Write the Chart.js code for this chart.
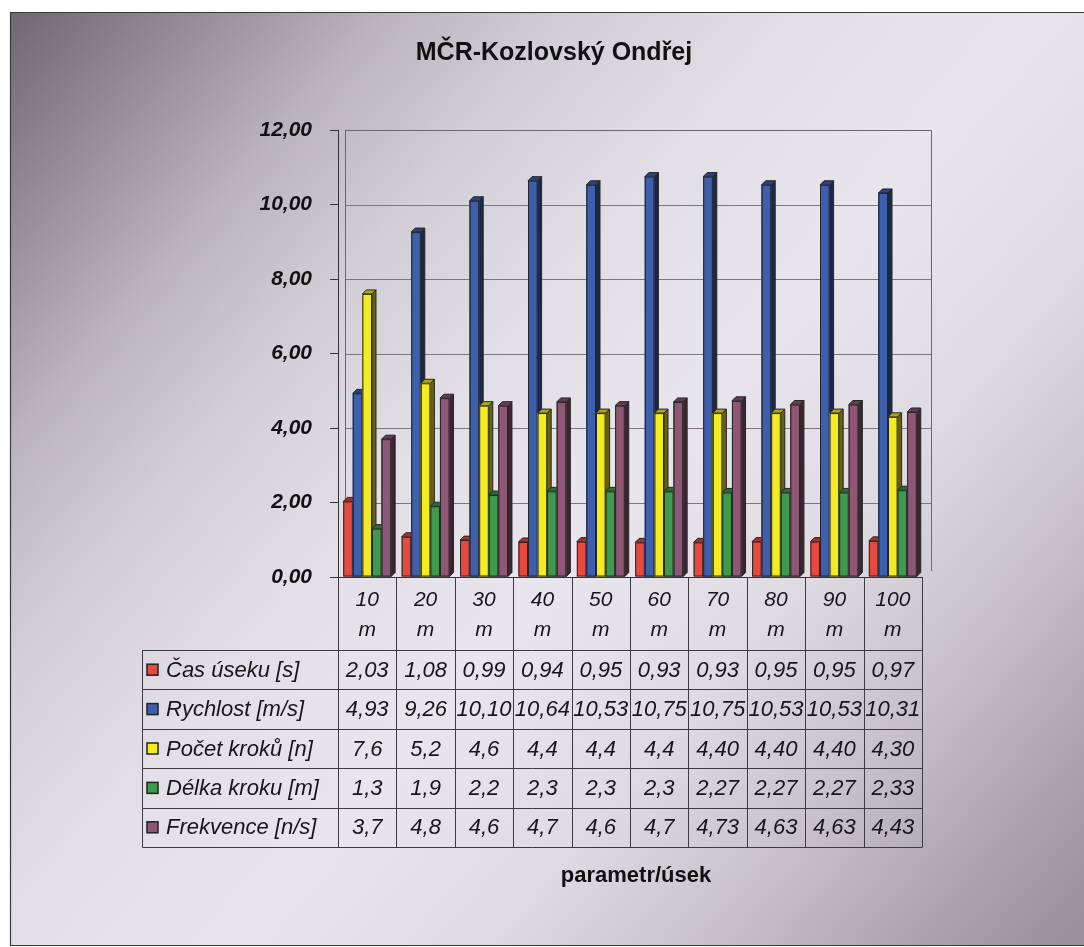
<!DOCTYPE html>
<html>
<head>
<meta charset="utf-8">
<title>MČR-Kozlovský Ondřej</title>
<script src="https://cdn.jsdelivr.net/npm/chart.js@4.4.1/dist/chart.umd.min.js"></script>
<style>
  html, body { margin: 0; padding: 0; background: #ffffff; }
  canvas { display: block; }
</style>
</head>
<body>
<canvas id="chart" width="1084" height="947"></canvas>
<script>
// Segments of the 100 m run (category axis)
const segments = ['10', '20', '30', '40', '50', '60', '70', '80', '90', '100'];
const segmentUnit = 'm';

// Series names as shown in the data table
const seriesNames = ['Čas úseku [s]', 'Rychlost [m/s]', 'Počet kroků [n]', 'Délka kroku [m]', 'Frekvence [n/s]'];

// Values as printed in the table (Czech decimal comma); bars are drawn from these same values
const casUseku   = ['2,03', '1,08', '0,99', '0,94', '0,95', '0,93', '0,93', '0,95', '0,95', '0,97'];
const rychlost   = ['4,93', '9,26', '10,10', '10,64', '10,53', '10,75', '10,75', '10,53', '10,53', '10,31'];
const pocetKroku = ['7,6', '5,2', '4,6', '4,4', '4,4', '4,4', '4,40', '4,40', '4,40', '4,30'];
const delkaKroku = ['1,3', '1,9', '2,2', '2,3', '2,3', '2,3', '2,27', '2,27', '2,27', '2,33'];
const frekvence  = ['3,7', '4,8', '4,6', '4,7', '4,6', '4,7', '4,73', '4,63', '4,63', '4,43'];

// Value axis
const yMin = 0;
const yMax = 12;
const yStep = 2;

const seriesColors = ['#e5493f', '#3d5fae', '#f4ec22', '#3f9a4e', '#8e5874'];
const seriesText = [casUseku, rychlost, pocetKroku, delkaKroku, frekvence];

const FONT = "'Liberation Sans', Arial, sans-serif";
const toNumber = s => parseFloat(s.replace(',', '.'));

function shade(hex, f) {
  const n = parseInt(hex.slice(1), 16);
  const r = Math.round(((n >> 16) & 255) * f);
  const g = Math.round(((n >> 8) & 255) * f);
  const b = Math.round((n & 255) * f);
  return `rgb(${Math.min(r,255)},${Math.min(g,255)},${Math.min(b,255)})`;
}

// Chart background: diagonal grey-to-light-to-grey fill with a thin frame
const backgroundPlugin = {
  id: 'sheetBackground',
  beforeDraw(chart) {
    const { ctx, width, height } = chart;
    ctx.save();
    ctx.fillStyle = '#ffffff';
    ctx.fillRect(0, 0, width, height);
    const x0 = 10, y0 = 12, x1 = width + 2, y1 = 945;
    const g = ctx.createLinearGradient(x0, y0, 1084, 945);
    g.addColorStop(0.00, '#6e696f');
    g.addColorStop(0.07, '#88838a');
    g.addColorStop(0.20, '#bab5bc');
    g.addColorStop(0.30, '#d2ced5');
    g.addColorStop(0.42, '#e3dfe6');
    g.addColorStop(0.55, '#e9e5ec');
    g.addColorStop(0.68, '#dfdbe2');
    g.addColorStop(0.80, '#c7c2c9');
    g.addColorStop(0.90, '#aca7ae');
    g.addColorStop(1.00, '#958f97');
    ctx.fillStyle = g;
    ctx.fillRect(x0, y0, x1 - x0, y1 - y0);
    ctx.strokeStyle = '#3a3a3a';
    ctx.lineWidth = 1.2;
    ctx.beginPath();
    ctx.moveTo(x1, y0 + 0.5);
    ctx.lineTo(x0 + 0.5, y0 + 0.5);
    ctx.lineTo(x0 + 0.5, y1 + 0.5);
    ctx.lineTo(x1, y1 + 0.5);
    ctx.stroke();
    ctx.restore();
  }
};

// Back wall of the plot: frame and horizontal gridlines, offset for the 3D depth
const WALL_DX = 7;
const WALL_RIGHT_EXTRA = 9;
const wallPlugin = {
  id: 'plotWall',
  beforeDatasetsDraw(chart) {
    const { ctx, chartArea, scales } = chart;
    const y = scales.y;
    const left = chartArea.left + WALL_DX;
    const right = chartArea.right + WALL_RIGHT_EXTRA;
    ctx.save();
    ctx.strokeStyle = '#7a777d';
    ctx.lineWidth = 1;
    y.ticks.forEach(t => {
      const py = Math.round(y.getPixelForValue(t.value)) + 0.5;
      if (t.value === yMin) return;
      ctx.beginPath();
      ctx.moveTo(left, py);
      ctx.lineTo(right, py);
      ctx.stroke();
    });
    const top = Math.round(y.getPixelForValue(yMax)) + 0.5;
    const bottom = Math.round(y.getPixelForValue(yMin)) - 6;
    ctx.strokeStyle = '#6a676d';
    ctx.beginPath();
    ctx.moveTo(left + 0.5, bottom);
    ctx.lineTo(left + 0.5, top);
    ctx.lineTo(right + 0.5, top);
    ctx.lineTo(right + 0.5, bottom);
    ctx.stroke();
    ctx.restore();
  }
};

// Shaded side and top faces give each bar a shallow 3D look
const DEPTH = 4;
const bars3dPlugin = {
  id: 'bars3d',
  afterDatasetsDraw(chart) {
    const { ctx } = chart;
    const metas = chart.data.datasets.map((d, i) => chart.getDatasetMeta(i));
    const n = chart.data.labels.length;
    const face = (el, color) => {
      const p = el.getProps(['x', 'y', 'base', 'width'], true);
      const l = p.x - p.width / 2;
      ctx.fillStyle = color;
      ctx.fillRect(l, p.y, p.width, p.base - p.y);
      ctx.strokeStyle = '#262626';
      ctx.lineWidth = 1;
      ctx.strokeRect(l + 0.5, p.y + 0.5, p.width - 1, p.base - p.y - 1);
    };
    ctx.save();
    for (let j = 0; j < n; j++) {
      for (let i = 0; i < metas.length; i++) {
        const el = metas[i].data[j];
        const p = el.getProps(['x', 'y', 'base', 'width'], true);
        const l = p.x - p.width / 2, r = p.x + p.width / 2;
        const c = seriesColors[i];
        ctx.lineWidth = 1;
        ctx.strokeStyle = '#262626';
        ctx.fillStyle = shade(c, 0.42);
        ctx.beginPath();
        ctx.moveTo(r, p.y);
        ctx.lineTo(r + DEPTH, p.y - DEPTH);
        ctx.lineTo(r + DEPTH, p.base - DEPTH);
        ctx.lineTo(r, p.base);
        ctx.closePath();
        ctx.fill();
        ctx.stroke();
        ctx.fillStyle = shade(c, 0.7);
        ctx.beginPath();
        ctx.moveTo(l, p.y);
        ctx.lineTo(l + DEPTH, p.y - DEPTH);
        ctx.lineTo(r + DEPTH, p.y - DEPTH);
        ctx.lineTo(r, p.y);
        ctx.closePath();
        ctx.fill();
        ctx.stroke();
        face(el, c);
        if (i + 1 < metas.length) face(metas[i + 1].data[j], seriesColors[i + 1]);
      }
    }
    ctx.restore();
  }
};

// Data table under the category axis, chart title and axis title
const TABLE_LEFT = 142;
const TABLE_TOP = 650;
const ROW_H = 39.4;
const tablePlugin = {
  id: 'dataTable',
  afterDraw(chart) {
    const { ctx, chartArea, scales } = chart;
    const x = scales.x;
    const axisY = chartArea.bottom;
    const rows = seriesText.length;
    const tableBottom = TABLE_TOP + rows * ROW_H;
    ctx.save();
    ctx.strokeStyle = '#3c3c3c';
    ctx.lineWidth = 1;

    // column dividers at category boundaries
    for (let j = 0; j <= segments.length; j++) {
      const px = Math.round(x.getPixelForValue(j - 0.5)) + 0.5;
      ctx.beginPath();
      ctx.moveTo(px, axisY);
      ctx.lineTo(px, tableBottom);
      ctx.stroke();
    }
    // row lines
    const right = Math.round(x.getPixelForValue(segments.length - 0.5)) + 0.5;
    for (let r = 0; r <= rows; r++) {
      const py = Math.round(TABLE_TOP + r * ROW_H) + 0.5;
      ctx.beginPath();
      ctx.moveTo(TABLE_LEFT + 0.5, py);
      ctx.lineTo(right, py);
      ctx.stroke();
    }
    ctx.beginPath();
    ctx.moveTo(TABLE_LEFT + 0.5, TABLE_TOP);
    ctx.lineTo(TABLE_LEFT + 0.5, tableBottom + 0.5);
    ctx.stroke();

    // legend keys and row captions
    ctx.textBaseline = 'middle';
    for (let r = 0; r < rows; r++) {
      const cy = TABLE_TOP + r * ROW_H + ROW_H / 2;
      ctx.fillStyle = seriesColors[r];
      ctx.fillRect(147, cy - 5.5, 11, 11);
      ctx.strokeStyle = '#222';
      ctx.lineWidth = 1.5;
      ctx.strokeRect(147, cy - 5.5, 11, 11);
      ctx.fillStyle = '#161616';
      ctx.font = `italic 22px ${FONT}`;
      ctx.textAlign = 'left';
      ctx.fillText(seriesNames[r], 166, cy + 1);
      ctx.textAlign = 'center';
      seriesText[r].forEach((s, j) => {
        ctx.fillText(s, x.getPixelForValue(j), cy + 1);
      });
    }

    // chart title
    ctx.fillStyle = '#111111';
    ctx.textAlign = 'center';
    ctx.font = `bold 25px ${FONT}`;
    ctx.fillText('MČR-Kozlovský Ondřej', 554, 53);

    // category axis title
    ctx.font = `bold 22px ${FONT}`;
    ctx.fillText('parametr/úsek', 636, 876);
    ctx.restore();
  }
};

const chartData = {
  labels: segments.map(s => [s, segmentUnit]),
  datasets: seriesNames.map((name, i) => ({
    label: name,
    data: seriesText[i].map(toNumber),
    backgroundColor: seriesColors[i],
    borderColor: '#262626',
    borderWidth: 1,
    categoryPercentage: 0.82,
    barPercentage: 1.0
  }))
};

new Chart(document.getElementById('chart'), {
  type: 'bar',
  data: chartData,
  plugins: [backgroundPlugin, wallPlugin, bars3dPlugin, tablePlugin],
  options: {
    responsive: false,
    animation: false,
    devicePixelRatio: 1,
    layout: { padding: { top: 130, right: 162, bottom: 0, left: 0 } },
    plugins: {
      legend: { display: false },
      title: { display: false },
      tooltip: { enabled: false }
    },
    scales: {
      x: {
        grid: { display: false, drawTicks: false },
        border: { display: true, color: '#333333', width: 1 },
        ticks: {
          autoSkip: false,
          maxRotation: 0,
          padding: 8,
          color: '#161616',
          font: { family: FONT, size: 21, style: 'italic', lineHeight: 1.43 }
        },
        afterFit(scale) { scale.height = 370; }
      },
      y: {
        min: yMin,
        max: yMax,
        ticks: {
          stepSize: yStep,
          padding: 18,
          color: '#111111',
          font: { family: FONT, size: 21, weight: 'bold', style: 'italic' },
          callback: v => v.toFixed(2).replace('.', ',')
        },
        grid: { display: true, drawOnChartArea: false, drawTicks: true, tickLength: 8, color: '#333333' },
        border: { display: true, color: '#333333', width: 1 },
        afterFit(scale) { scale.width = 338; }
      }
    }
  }
});
</script>
</body>
</html>
